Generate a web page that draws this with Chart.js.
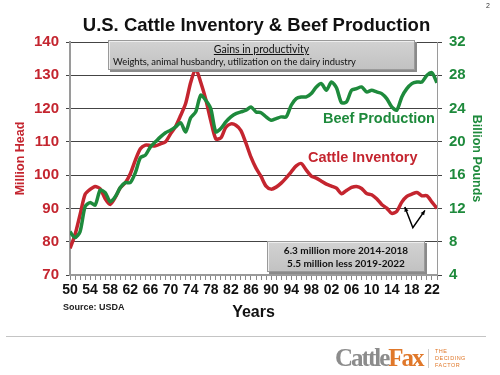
<!DOCTYPE html>
<html>
<head>
<meta charset="utf-8">
<script src="https://cdn.jsdelivr.net/npm/chart.js@4.4.1/dist/chart.umd.min.js"></script>
<style>
  html, body { margin: 0; padding: 0; background: #fff; }
  #wrap { position: relative; width: 500px; height: 375px; overflow: hidden; font-family: "Liberation Sans", Arial, sans-serif; }
  #chart { position: absolute; left: 0; top: 0; }
  .abs { position: absolute; white-space: nowrap; }
  .title { left: 0; width: 513px; top: 14px; text-align: center; font-size: 18.5px; font-weight: bold; color: #111; }
  .pagenum { left: 486px; top: 2px; font-size: 7px; color: #333; }
  .series { font-size: 14.5px; font-weight: bold; }
  .box { background: linear-gradient(#d2d2d2, #c2c2c2); border: 1px solid #9a9a9a; box-shadow: 2px 2px 0 #8a8a8a, inset 1px 1px 0 #eee;
         font-family: "Lato", "Open Sans", sans-serif; color: #111; }
  .source { left: 63px; top: 302px; font-size: 9px; font-weight: bold; color: #222; }
  .rule { left: 6px; top: 336px; width: 480px; height: 1px; background: #c4c4c4; }
  .logo { left: 335px; top: 344px; font-family: "Liberation Serif", "DejaVu Serif", serif; font-weight: bold; font-size: 25px; letter-spacing: -2px; }
  .tag { left: 435px; top: 348px; font-size: 5.5px; line-height: 7px; color: #e0782a; letter-spacing: 0.5px; }
</style>
</head>
<body>
<div id="wrap">
  <canvas id="chart" width="500" height="375"></canvas>
  <div class="abs title">U.S. Cattle Inventory &amp; Beef Production</div>
  <div class="abs pagenum">2</div>
  <div class="abs box" style="left:108px; top:40px; width:305px; height:28px;">
    <div style="text-align:center; font-size:10.5px; margin-top:2px; text-decoration:underline;">Gains in productivity</div>
    <div style="font-size:9.4px; margin-left:4px; margin-top:1px;">Weights, animal husbandry, utilization on the dairy industry</div>
  </div>
  <div class="abs series" style="left:323px; top:110px; color:#1e8a3c;">Beef Production</div>
  <div class="abs series" style="left:308px; top:149px; color:#c4252f;">Cattle Inventory</div>
  <div class="abs box" style="left:267px; top:241px; width:156px; height:29px; font-weight:bold; font-size:10px; line-height:13px; text-align:center;">
    <div style="margin-top:2px;">6.3 million more 2014-2018</div>
    <div>5.5 million less 2019-2022</div>
  </div>
  <div class="abs source">Source: USDA</div>
  <div class="abs rule"></div>
  <div class="abs logo"><span style="color:#8c8c8c;">Cattle</span><span style="color:#e0782a;">Fax</span></div>
  <div class="abs" style="left:428px; top:349px; width:1px; height:19px; background:#ccc;"></div>
  <div class="abs tag">THE<br>DECIDING<br>FACTOR</div>
</div>
<script>
// values
const years = [];
for (let y = 1950; y <= 2023; y++) years.push(y);

const cattleInventory = [
  78.0, 82.1, 88.1, 94.2, 95.7, 96.6, 95.9, 92.9, 91.2, 93.3,
  96.2, 97.7, 100.4, 104.5, 107.9, 109.0, 108.9, 108.8, 109.4, 110.0,
  112.4, 114.6, 117.9, 121.5, 127.8, 132.0, 127.9, 122.8, 116.4, 110.9,
  111.2, 114.4, 115.4, 115.0, 113.4, 109.6, 105.4, 102.1, 99.6, 96.7,
  95.8, 96.4, 97.6, 99.2, 101.0, 102.8, 103.5, 101.5, 99.7, 99.1,
  98.2, 97.3, 96.7, 96.1, 94.4, 95.4, 96.3, 96.6, 96.0, 94.5,
  94.1, 92.9, 91.2, 90.1, 88.5, 89.1, 91.9, 93.6, 94.3, 94.8,
  93.8, 93.8, 91.9, 90.0
];

const beefProduction = [
  9.2, 8.5, 9.2, 12.2, 12.7, 12.4, 14.2, 13.9, 12.8, 13.4,
  14.5, 15.1, 15.1, 16.3, 18.1, 18.4, 19.4, 20.0, 20.6, 21.1,
  21.4, 21.8, 22.3, 21.2, 22.9, 23.6, 25.6, 25.0, 24.0, 21.2,
  21.6, 22.4, 23.0, 23.4, 23.6, 23.8, 24.2, 23.6, 23.5, 23.0,
  22.6, 22.8, 23.0, 23.0, 24.4, 25.2, 25.4, 25.4, 25.8, 26.6,
  27.0, 26.2, 27.2, 26.5, 24.7, 24.8, 26.2, 26.4, 26.6, 26.0,
  26.2, 26.0, 25.8, 25.2, 24.2, 23.8, 25.4, 26.4, 27.0, 27.2,
  27.2, 28.0, 28.3, 27.1
];

// V arrow annotation, in data units (year, million head)
const arrowPoints = [[2016.6, 90.4], [2018.2, 84.2], [2020.6, 89.4]];

const RED = '#c4252f';
const GREEN = '#1e8a3c';

const arrowPlugin = {
  id: 'vArrow',
  afterDatasetsDraw(chart) {
    const {ctx, scales: {x, y}} = chart;
    const p = arrowPoints.map(([a, b]) => [x.getPixelForValue(a), y.getPixelForValue(b)]);
    ctx.save();
    ctx.strokeStyle = '#000';
    ctx.fillStyle = '#000';
    ctx.lineWidth = 1.5;
    ctx.beginPath();
    ctx.moveTo(p[0][0], p[0][1]);
    ctx.lineTo(p[1][0], p[1][1]);
    ctx.lineTo(p[2][0], p[2][1]);
    ctx.stroke();
    // arrow heads at both free ends
    [[p[1], p[0]], [p[1], p[2]]].forEach(([from, to]) => {
      const ang = Math.atan2(to[1] - from[1], to[0] - from[0]);
      ctx.beginPath();
      ctx.moveTo(to[0], to[1]);
      ctx.lineTo(to[0] - 5 * Math.cos(ang - 0.45), to[1] - 5 * Math.sin(ang - 0.45));
      ctx.lineTo(to[0] - 5 * Math.cos(ang + 0.45), to[1] - 5 * Math.sin(ang + 0.45));
      ctx.closePath();
      ctx.fill();
    });
    ctx.restore();
  }
};

new Chart(document.getElementById('chart'), {
  type: 'line',
  data: {
    datasets: [
      {
        label: 'Beef Production',
        data: years.map((yr, i) => ({x: yr, y: beefProduction[i]})),
        yAxisID: 'y1',
        borderColor: GREEN,
        borderWidth: 3.5,
        pointRadius: 0,
        tension: 0.25,
        order: 0
      },
      {
        label: 'Cattle Inventory',
        data: years.map((yr, i) => ({x: yr, y: cattleInventory[i]})),
        yAxisID: 'y',
        borderColor: RED,
        borderWidth: 3.5,
        pointRadius: 0,
        tension: 0.25,
        order: 1
      }
    ]
  },
  options: {
    responsive: false,
    animation: false,
    layout: {padding: {top: 42, left: 0, right: 0, bottom: 0}},
    plugins: {legend: {display: false}, tooltip: {enabled: false}},
    scales: {
      x: {
        type: 'linear',
        min: 1950,
        max: 2023,
        afterFit(scale) { scale.height = 100; },
        border: {color: '#9a9a9a', width: 2},
        grid: {drawOnChartArea: false, color: '#888', tickLength: 5},
        ticks: {
          stepSize: 1,
          autoSkip: false,
          maxRotation: 0,
          padding: 2,
          color: '#111',
          font: {family: 'Liberation Sans', size: 14, weight: 'bold'},
          callback: v => ((v - 1950) % 4 === 0 ? String(v).slice(2) : '')
        },
        title: {
          display: true,
          text: 'Years',
          color: '#111',
          font: {family: 'Liberation Sans', size: 16, weight: 'bold'},
          padding: {bottom: 53}
        }
      },
      y: {
        position: 'left',
        min: 70,
        max: 140,
        afterFit(scale) { scale.width = 70; },
        border: {color: '#9a9a9a', width: 2},
        grid: {color: '#444', lineWidth: 1, tickLength: 4},
        ticks: {
          stepSize: 10,
          padding: 7,
          color: RED,
          font: {family: 'Liberation Sans', size: 15, weight: 'bold'}
        },
        title: {
          display: true,
          text: 'Million Head',
          color: RED,
          font: {family: 'Liberation Sans', size: 12.5, weight: 'bold'},
          padding: {top: 13}
        }
      },
      y1: {
        position: 'right',
        min: 4,
        max: 32,
        afterFit(scale) { scale.width = 63; },
        border: {color: '#9a9a9a', width: 1},
        grid: {drawOnChartArea: false, color: '#444', tickLength: 5},
        ticks: {
          stepSize: 4,
          padding: 7,
          color: GREEN,
          font: {family: 'Liberation Sans', size: 15, weight: 'bold'}
        },
        title: {
          display: true,
          text: 'Billion Pounds',
          color: GREEN,
          font: {family: 'Liberation Sans', size: 12.5, weight: 'bold'},
          padding: {top: 16}
        }
      }
    }
  },
  plugins: [arrowPlugin]
});
</script>
</body>
</html>
